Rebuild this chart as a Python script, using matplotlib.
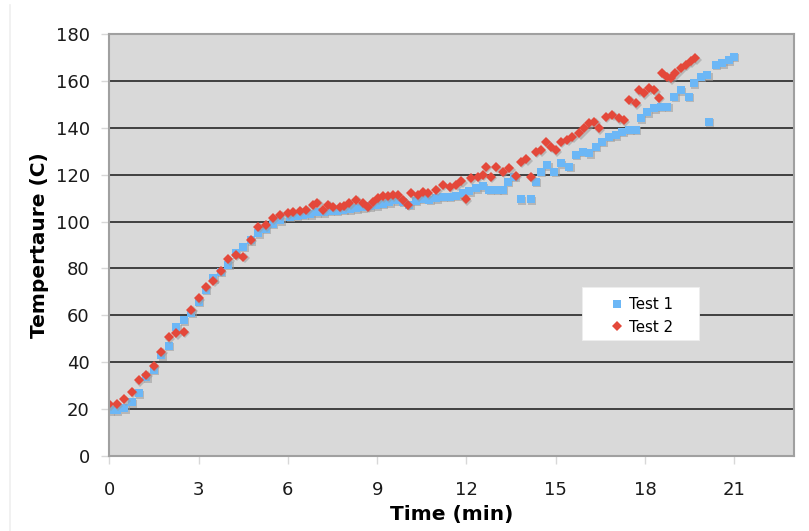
import matplotlib
matplotlib.use("Agg")
import matplotlib.pyplot as plt
import matplotlib.transforms as mtransforms
from matplotlib.patches import Rectangle
from matplotlib.lines import Line2D

# ---- data ----
t1 = [0, 0.25, 0.5, 0.75, 1.0, 1.25, 1.5, 1.75, 2.0, 2.25, 2.5, 2.75, 3.0, 3.25, 3.5,
      3.75, 4.0, 4.25, 4.5, 4.75, 5.0, 5.25, 5.5, 5.75, 6.07, 6.3, 6.52, 6.75, 6.97, 7.2,
      7.41, 7.64, 7.86, 8.08, 8.3, 8.52, 8.75, 8.97, 9.19, 9.41, 9.64, 9.86, 10.08, 10.3,
      10.53, 10.75, 10.98, 11.2, 11.43, 11.65, 11.87, 12.1, 12.32, 12.55, 12.77, 13.0,
      13.21, 13.38, 13.6, 13.83, 14.16, 14.33, 14.5, 14.72, 14.94, 15.17, 15.45, 15.67,
      15.9, 16.12, 16.34, 16.56, 16.79, 17.01, 17.23, 17.46, 17.68, 17.85, 18.07, 18.3,
      18.52, 18.74, 18.97, 19.19, 19.47, 19.64, 19.86, 20.08, 20.14, 20.37, 20.59, 20.81,
      20.98]
temp1 = [19.5, 19.5, 20.3, 23.0, 26.7, 33.5, 36.7, 43.0, 47.0, 55.0, 58.0, 61.0, 65.8,
         71.0, 75.8, 78.5, 81.5, 86.5, 89.3, 92.0, 95.0, 97.0, 99.0, 100.5, 102.0, 102.4,
         102.8, 103.2, 104.0, 104.0, 104.6, 104.6, 105.0, 105.3, 105.6, 106.0, 106.6,
         107.0, 107.6, 108.2, 109.0, 108.4, 107.2, 108.8, 109.8, 109.4, 110.0, 110.6,
         110.6, 111.0, 112.0, 113.0, 114.2, 115.0, 113.5, 113.5, 113.5, 117.0, 119.2,
         109.5, 109.5, 117.0, 121.3, 124.1, 121.3, 124.9, 123.4, 128.4, 129.8, 129.1,
         132.0, 134.1, 136.2, 136.9, 138.4, 139.1, 139.1, 144.0, 146.6, 148.3, 149.0,
         149.0, 153.3, 156.1, 153.3, 159.0, 161.8, 162.5, 142.6, 166.8, 167.5, 168.9,
         170.3]

t2 = [0, 0.25, 0.5, 0.75, 1.0, 1.25, 1.5, 1.75, 2.0, 2.25, 2.5, 2.75, 3.0, 3.25, 3.5,
      3.75, 4.0, 4.25, 4.5, 4.75, 5.0, 5.25, 5.5, 5.75, 6.0, 6.17, 6.4, 6.62, 6.84, 6.98,
      7.18, 7.35, 7.51, 7.74, 7.9, 8.07, 8.3, 8.52, 8.69, 8.85, 9.02, 9.19, 9.36, 9.52,
      9.69, 9.86, 10.03, 10.14, 10.36, 10.53, 10.7, 10.98, 11.2, 11.43, 11.65, 11.82,
      11.98, 12.15, 12.37, 12.54, 12.65, 12.82, 12.99, 13.21, 13.44, 13.66, 13.83, 14.0,
      14.16, 14.33, 14.5, 14.67, 14.83, 15.0, 15.17, 15.39, 15.56, 15.78, 15.95, 16.12,
      16.29, 16.45, 16.68, 16.9, 17.12, 17.29, 17.46, 17.68, 17.79, 17.96, 18.13, 18.3,
      18.46, 18.58, 18.74, 18.86, 19.02, 19.19, 19.36, 19.53, 19.69]
temp2 = [22.0, 22.0, 24.2, 27.3, 32.4, 34.6, 38.4, 44.5, 50.6, 52.3, 53.0, 62.3, 67.3,
         72.2, 74.8, 79.1, 83.9, 85.8, 85.0, 92.2, 97.8, 98.5, 101.4, 102.8, 103.5,
         104.2, 104.7, 105.0, 107.1, 108.1, 105.0, 107.1, 106.4, 106.4, 106.7, 107.8,
         109.2, 107.8, 106.4, 108.5, 109.9, 110.9, 110.9, 111.3, 111.3, 109.2, 107.1,
         112.1, 111.3, 112.8, 112.1, 113.5, 115.6, 114.9, 115.6, 117.1, 109.5, 118.5,
         119.2, 119.9, 123.4, 119.2, 123.4, 121.3, 122.7, 119.5, 125.6, 126.6, 119.2,
         129.8, 130.5, 134.1, 132.0, 130.5, 134.1, 134.8, 136.2, 137.7, 139.8, 141.9,
         142.6, 139.8, 144.8, 145.5, 144.0, 143.3, 151.9, 150.5, 156.1, 154.7, 156.8,
         156.1, 152.9, 163.3, 161.8, 161.1, 163.3, 165.4, 166.8, 168.3, 169.7]

series_names = ["Test 1", "Test 2"]
x_ticks = [0, 3, 6, 9, 12, 15, 18, 21]
y_ticks = [0, 20, 40, 60, 80, 100, 120, 140, 160, 180]

# ---- figure ----
W, H = 809, 531
fig = plt.figure(figsize=(W / 100, H / 100), dpi=100)
fig.patch.set_facecolor("white")
ax = fig.add_axes([109.2 / W, 1 - 456 / H, (794 - 109.2) / W, (456 - 34) / H])
ax.set_facecolor("#d9d9d9")

ax.set_xlim(0, 23)
ax.set_ylim(0, 180)
ax.set_xticks(x_ticks)
ax.set_yticks(y_ticks)

ax.set_axisbelow(True)
ax.yaxis.grid(True, color="#353535", linewidth=1.3)
ax.xaxis.grid(False)
for s in ax.spines.values():
    s.set_color("#a0a0a0")
    s.set_linewidth(1.5)
    s.set_zorder(3)

ax.tick_params(axis="both", direction="out", length=6, width=1, color="#d8d8d8",
               labelsize=13, labelcolor="#1a1a1a")
ax.tick_params(axis="y", pad=8)
ax.tick_params(axis="x", pad=12)

blue = "#6cb7f6"
red = "#e4483a"
shadow = mtransforms.offset_copy(ax.transData, fig=fig, x=1.5, y=-1.5, units="dots")

ax.plot(t1, temp1, linestyle="none", marker="s", markersize=6.3, color="#9a9a9a",
        alpha=0.55, markeredgewidth=0, transform=shadow, zorder=2)
l1, = ax.plot(t1, temp1, linestyle="none", marker="s", markersize=6.3, color=blue,
              markeredgewidth=0, label=series_names[0], zorder=2.1)
ax.plot(t2, temp2, linestyle="none", marker="D", markersize=5.3, color="#9a9a9a",
        alpha=0.55, markeredgewidth=0, transform=shadow, zorder=2.2)
l2, = ax.plot(t2, temp2, linestyle="none", marker="D", markersize=5.3, color=red,
              markeredgewidth=0, label=series_names[1], zorder=2.3)

ax.set_xlabel("Time (min)", fontsize=14.5, fontweight="bold", labelpad=4)
ax.set_ylabel("Tempertaure (C)", fontsize=14.5, fontweight="bold", labelpad=5)

# legend
box = Rectangle((581.7 / W, 1 - 340 / H), 117.6 / W, 52.7 / H, transform=fig.transFigure,
                facecolor="white", edgecolor="#eeeeee", linewidth=0.6, zorder=4,
                clip_on=False)
ax.add_patch(box)
leg = ax.legend(handles=[l1, l2], loc="center", bbox_to_anchor=(641 / W, 1 - 315.8 / H),
                bbox_transform=fig.transFigure, frameon=False, fontsize=10.8,
                handlelength=1.0, handletextpad=0.3, borderpad=0, labelspacing=0.5,
                borderaxespad=0)
leg.set_zorder(5)

# faint chart border line at left
fig.add_artist(Line2D([9.5 / W, 9.5 / W], [0, 1 - 5 / H], transform=fig.transFigure,
                      color="#efefef", linewidth=1.2))

fig.savefig("out.png", dpi=100)
